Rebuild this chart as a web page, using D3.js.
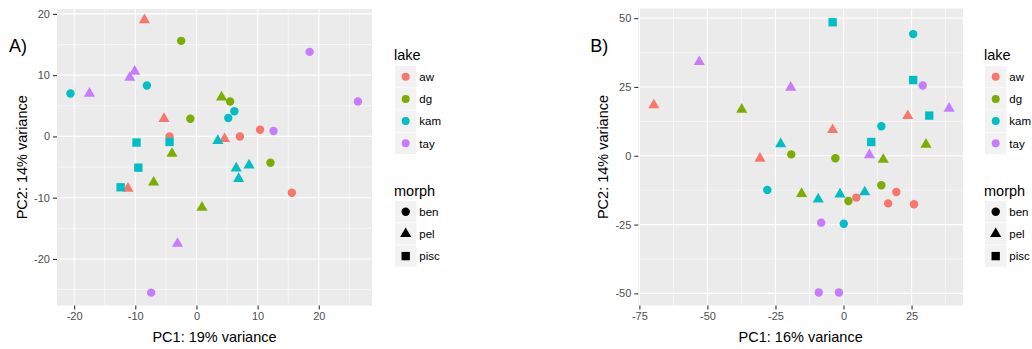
<!DOCTYPE html>
<html><head><meta charset="utf-8">
<script src="https://cdn.jsdelivr.net/npm/d3@7"></script>
<style>
body{margin:0;background:#fff;}
svg{display:block;font-family:"Liberation Sans",Arial,Helvetica,sans-serif;}
</style>
</head><body>
<svg id="chart" width="1032" height="349"></svg>
<script>
// ---------- data ----------
const lakes = ["aw", "dg", "kam", "tay"];
const lakeColors = ["#F8766D", "#7CAE00", "#00BFC4", "#C77CFF"];
const morphs = ["ben", "pel", "pisc"];
const panelLabels = ["A)", "B)"];
const xTitles = ["PC1: 19% variance", "PC1: 16% variance"];
const yTitles = ["PC2: 14% variance", "PC2: 14% variance"];

// Panel A
const aLake  = ["aw","aw","aw","aw","aw","aw","aw","aw",
                "dg","dg","dg","dg","dg","dg","dg","dg",
                "kam","kam","kam","kam","kam","kam","kam","kam","kam","kam","kam","kam",
                "tay","tay","tay","tay","tay","tay","tay","tay"];
const aMorph = ["pel","pel","ben","ben","ben","pel","pel","ben",
                "ben","ben","pel","ben","pel","pel","pel","ben",
                "ben","ben","pisc","pisc","ben","ben","pel","pisc","pisc","pel","pel","pel",
                "pel","pel","pel","ben","ben","ben","pel","ben"];
const aX = [-8.5,-5.3,-4.4,10.4,7.1,4.6,-11.2,15.6,
            -2.5,-1.0,4.1,5.5,-4.0,-7.0,0.9,12.1,
            -20.6,-8.1,-9.8,-4.4,6.2,5.2,3.5,-9.5,-12.4,6.5,8.6,6.9,
            -10.9,-10.1,-17.5,18.5,26.4,12.6,-3.1,-7.4];
const aY = [19.0,2.9,0.0,1.1,0.0,-0.4,-8.5,-9.2,
            15.6,2.9,6.4,5.7,-2.8,-7.5,-11.6,-4.3,
            7.0,8.3,-1.0,-0.9,4.1,3.0,-0.7,-5.1,-8.3,-5.2,-4.7,-6.9,
            9.6,10.6,7.0,13.8,5.7,0.9,-17.5,-25.5];
const aXTicks = [-20, -10, 0, 10, 20];
const aYTicks = [-20, -10, 0, 10, 20];
const aXDomain = [-22.8, 28.7];
const aYDomain = [-27.6, 20.8];

// Panel B
const bLake  = ["aw","aw","aw","aw","aw","aw","aw","aw",
                "kam","kam","kam","kam","kam","kam","kam","kam","kam","kam","kam","kam",
                "dg","dg","dg","dg","dg","dg","dg","dg",
                "tay","tay","tay","tay","tay","tay","tay","tay"];
const bMorph = ["pel","pel","pel","pel","ben","ben","ben","ben",
                "pisc","ben","pisc","pisc","ben","pisc","pel","ben","pel","pel","pel","ben",
                "pel","pel","ben","ben","pel","pel","ben","ben",
                "pel","pel","ben","pel","pel","ben","ben","ben"];
const bX = [-69.7,-30.7,23.6,-4.0,4.7,19.4,16.4,25.9,
            -4.0,25.6,25.6,31.5,13.9,10.2,-23.1,-28.0,-9.3,-1.3,7.8,0.1,
            -37.4,30.3,-19.2,-3.0,14.6,-15.4,1.8,13.9,
            -53.0,-19.4,29.1,9.5,38.8,-8.2,-9.1,-1.7];
const bY = [18.4,-1.0,14.5,9.4,-15.2,-13.2,-17.3,-17.6,
            48.5,44.2,27.5,14.6,10.7,5.0,4.3,-12.4,-15.8,-14.0,-13.2,-24.7,
            16.8,4.1,0.5,-0.9,-1.4,-13.8,-16.4,-10.7,
            34.1,24.8,25.5,0.3,17.2,-24.3,-49.7,-49.7];
const bXTicks = [-75, -50, -25, 0, 25];
const bYTicks = [-50, -25, 0, 25, 50];
const bXDomain = [-75.4, 43.9];
const bYDomain = [-54.4, 53.5];

// ---------- drawing ----------
const svg = d3.select("#chart");
const color = d3.scaleOrdinal().domain(lakes).range(lakeColors);
const shapeOf = d3.scaleOrdinal().domain(morphs).range([d3.symbolCircle, d3.symbolTriangle, d3.symbolSquare]);
const sizeOf = d3.scaleOrdinal().domain(morphs).range([56, 54, 70]);

function minorTicks(ticks, domain) {
  const step = ticks[1] - ticks[0];
  const out = [];
  for (let v = ticks[0] - step / 2; v <= domain[1]; v += step) {
    if (v >= domain[0]) out.push(v);
  }
  return out;
}

function panel(cfg) {
  const x = d3.scaleLinear().domain(cfg.xDomain).range([cfg.left, cfg.right]);
  const y = d3.scaleLinear().domain(cfg.yDomain).range([cfg.bottom, cfg.top]);
  const g = svg.append("g");

  g.append("rect").attr("x", cfg.left).attr("y", cfg.top)
    .attr("width", cfg.right - cfg.left).attr("height", cfg.bottom - cfg.top)
    .attr("fill", "#EBEBEB");

  // minor grid
  g.selectAll(".mx").data(minorTicks(cfg.xTicks, cfg.xDomain)).enter().append("line")
    .attr("x1", d => x(d)).attr("x2", d => x(d)).attr("y1", cfg.top).attr("y2", cfg.bottom)
    .attr("stroke", "#fff").attr("stroke-width", 0.55);
  g.selectAll(".my").data(minorTicks(cfg.yTicks, cfg.yDomain)).enter().append("line")
    .attr("y1", d => y(d)).attr("y2", d => y(d)).attr("x1", cfg.left).attr("x2", cfg.right)
    .attr("stroke", "#fff").attr("stroke-width", 0.55);
  // major grid
  g.selectAll(".Mx").data(cfg.xTicks).enter().append("line")
    .attr("x1", d => x(d)).attr("x2", d => x(d)).attr("y1", cfg.top).attr("y2", cfg.bottom)
    .attr("stroke", "#fff").attr("stroke-width", 1.1);
  g.selectAll(".My").data(cfg.yTicks).enter().append("line")
    .attr("y1", d => y(d)).attr("y2", d => y(d)).attr("x1", cfg.left).attr("x2", cfg.right)
    .attr("stroke", "#fff").attr("stroke-width", 1.1);

  // axes
  const xAxis = d3.axisBottom(x).tickValues(cfg.xTicks).tickSize(4).tickPadding(3).tickFormat(d3.format("d"));
  const yAxis = d3.axisLeft(y).tickValues(cfg.yTicks).tickSize(4).tickPadding(3).tickFormat(d3.format("d"));
  const gx = g.append("g").attr("transform", `translate(0,${cfg.bottom})`).call(xAxis);
  const gy = g.append("g").attr("transform", `translate(${cfg.left},0)`).call(yAxis);
  [gx, gy].forEach(a => {
    a.select(".domain").remove();
    a.selectAll(".tick line").attr("stroke", "#333333").attr("stroke-width", 1.1);
    a.selectAll(".tick text").attr("fill", "#4D4D4D").attr("font-size", 11)
      .attr("font-family", '"Liberation Sans",Arial,sans-serif')
      .text(d => String(d));
  });

  // points
  const idx = d3.range(cfg.xs.length);
  g.selectAll(".pt").data(idx).enter().append("path")
    .attr("transform", i => `translate(${x(cfg.xs[i])},${y(cfg.ys[i])})`)
    .attr("d", i => d3.symbol().type(shapeOf(cfg.morph[i])).size(sizeOf(cfg.morph[i]))())
    .attr("fill", i => color(cfg.lake[i]));

  // titles
  g.append("text").attr("x", (cfg.left + cfg.right) / 2).attr("y", 341.5)
    .attr("text-anchor", "middle").attr("font-size", 14.5).attr("fill", "#000").text(cfg.xTitle);
  g.append("text").attr("transform", `translate(${cfg.left - 30},${(cfg.top + cfg.bottom) / 2}) rotate(-90)`)
    .attr("text-anchor", "middle").attr("font-size", 14.5).attr("fill", "#000").text(cfg.yTitle);
  g.append("text").attr("x", cfg.left - 48).attr("y", 51.7)
    .attr("font-size", 18).attr("fill", "#000").text(cfg.label);

  // legend
  const lx = cfg.legendX;
  const keyW = 21.4, pitch = 22.2;
  const lg = g.append("g");
  lg.append("text").attr("x", lx - 1).attr("y", 60).attr("font-size", 14.5).text("lake");
  lakes.forEach((l, i) => {
    const top = 66 + i * pitch;
    lg.append("rect").attr("x", lx).attr("y", top).attr("width", keyW).attr("height", keyW)
      .attr("fill", "#F2F2F2");
    lg.append("path").attr("transform", `translate(${lx + keyW / 2},${top + keyW / 2})`)
      .attr("d", d3.symbol().type(d3.symbolCircle).size(50)()).attr("fill", color(l));
    lg.append("text").attr("x", lx + 24.3).attr("y", top + keyW / 2 + 4.2)
      .attr("font-size", 11.5).attr("fill", "#000").text(l);
  });
  lg.append("text").attr("x", lx - 1).attr("y", 195.7).attr("font-size", 14.5).text("morph");
  morphs.forEach((m, i) => {
    const top = 201 + i * pitch;
    lg.append("rect").attr("x", lx).attr("y", top).attr("width", keyW).attr("height", keyW)
      .attr("fill", "#F2F2F2");
    lg.append("path").attr("transform", `translate(${lx + keyW / 2},${top + keyW / 2})`)
      .attr("d", d3.symbol().type(shapeOf(m)).size(sizeOf(m))()).attr("fill", "#000");
    lg.append("text").attr("x", lx + 24.3).attr("y", top + keyW / 2 + 4.2)
      .attr("font-size", 11.5).attr("fill", "#000").text(m);
  });
}

panel({left: 57, right: 372, top: 9, bottom: 305.5,
       xDomain: aXDomain, yDomain: aYDomain, xTicks: aXTicks, yTicks: aYTicks,
       xs: aX, ys: aY, lake: aLake, morph: aMorph,
       xTitle: xTitles[0], yTitle: yTitles[0], label: panelLabels[0], legendX: 395});
panel({left: 638.3, right: 963, top: 8.5, bottom: 305.5,
       xDomain: bXDomain, yDomain: bYDomain, xTicks: bXTicks, yTicks: bYTicks,
       xs: bX, ys: bY, lake: bLake, morph: bMorph,
       xTitle: xTitles[1], yTitle: yTitles[1], label: panelLabels[1], legendX: 985});
</script>
</body></html>
